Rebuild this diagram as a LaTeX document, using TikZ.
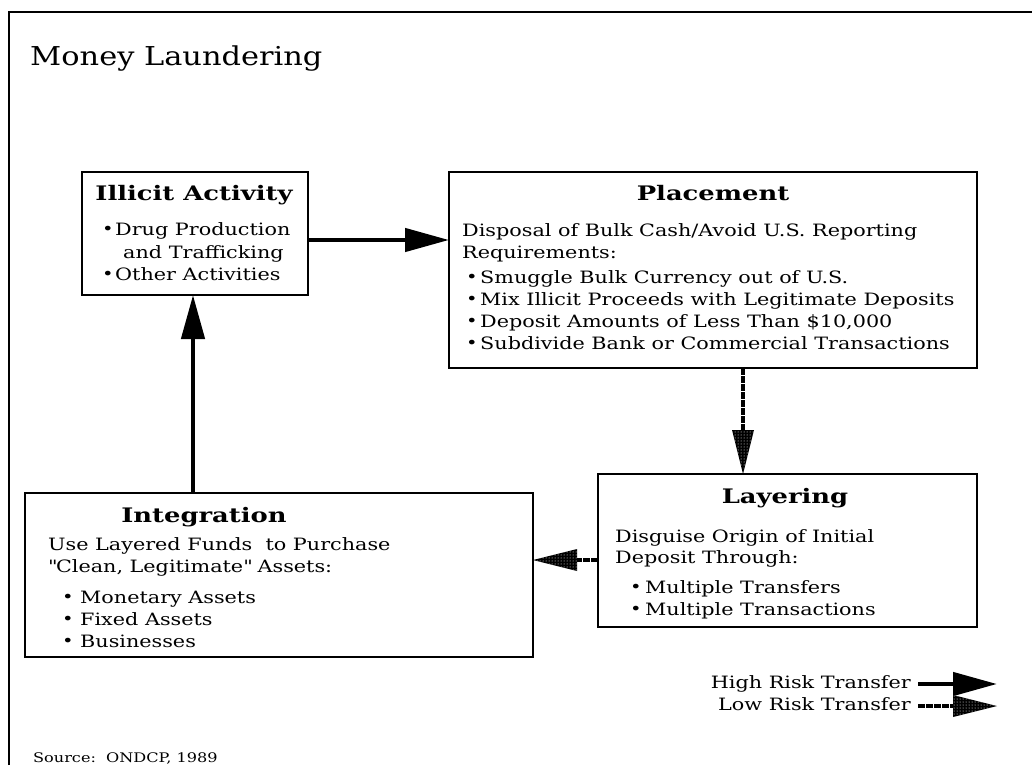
\documentclass[tikz,border=0pt]{standalone}
\usepackage{fontspec}
\setmainfont[FakeStretch=1.22]{DejaVu Serif}
\newfontfamily\ttlfont[FakeStretch=1.29]{DejaVu Serif}
\newfontfamily\bigfont[FakeStretch=1.17]{DejaVu Serif}
\usetikzlibrary{arrows.meta,patterns,calc}
\newcommand\mybul[1]{\makebox[#1][l]{\raisebox{0.3pt}{\fontsize{16}{16}\selectfont\textbullet}}}
\begin{document}
\begin{tikzpicture}[x=1pt,y=-1pt,
 box/.style={draw,line width=1.8pt,inner sep=0,outer sep=0},
 txt/.style={anchor=base west,inner sep=0,font=\fontsize{17}{20}\selectfont},
 ttl/.style={anchor=base,inner sep=0,font=\ttlfont\fontsize{20}{24}\selectfont\bfseries},
 hr/.style={line width=4.5pt,-{Triangle[length=44pt,width=23pt]}},
 lrshaft/.style={line width=3.5pt,dash pattern=on 7pt off 1pt},
 lrhead/.style={fill=black,postaction={pattern=dots,pattern color=white}},
]
\useasboundingbox (0,0) rectangle (1032,765);
\draw[line width=2.5pt] (9,765) -- (9,12) -- (1032,12);
\node[anchor=base west,inner sep=0,font=\bigfont\fontsize{26}{30}\selectfont] (title) at (30,66) {Money Laundering};

% boxes
\node[box,minimum width=226pt,minimum height=123pt] (illicit) at (195,233.5) {};
\node[box,minimum width=528pt,minimum height=196pt] (placement) at (713,270) {};
\node[box,minimum width=379pt,minimum height=153pt] (layering) at (787.5,550.5) {};
\node[box,minimum width=508pt,minimum height=164pt] (integration) at (279,575) {};

% illicit text
\node[ttl] (it) at (194,200) {Illicit Activity};
\node[txt] (i1) at (102,235) {\mybul{13pt}Drug Production};
\node[txt] (i2) at (123,258) {and Trafficking};
\node[txt] (i3) at (102,280) {\mybul{13pt}Other Activities};

% placement text
\node[ttl] (pt) at (713,200) {Placement};
\node[txt] (p1) at (462,236) {Disposal of Bulk Cash/Avoid U.S. Reporting};
\node[txt] (p2) at (462,258) {Requirements:};
\node[txt] (p3) at (466,283) {\mybul{14pt}Smuggle Bulk Currency out of U.S.};
\node[txt] (p4) at (466,305) {\mybul{14pt}Mix Illicit Proceeds with Legitimate Deposits};
\node[txt] (p5) at (466,327) {\mybul{14pt}Deposit Amounts of Less Than \$10,000};
\node[txt] (p6) at (466,349) {\mybul{14pt}Subdivide Bank or Commercial Transactions};

% layering text
\node[ttl] (lt) at (785,503) {Layering};
\node[txt] (l1) at (615,542) {Disguise Origin of Initial};
\node[txt] (l2) at (615,563) {Deposit Through:};
\node[txt] (l3) at (630,593) {\mybul{15pt}Multiple Transfers};
\node[txt] (l4) at (630,615) {\mybul{15pt}Multiple Transactions};

% integration text
\node[ttl] (gt) at (204,522) {Integration};
\node[txt] (g1) at (48,550) {Use Layered Funds\ \ to Purchase};
\node[txt] (g2) at (48,572) {\textquotedbl Clean, Legitimate\textquotedbl\ Assets:};
\node[txt] (g3) at (62,603) {\mybul{18pt}Monetary Assets};
\node[txt] (g4) at (62,625) {\mybul{18pt}Fixed Assets};
\node[txt] (g5) at (62,647) {\mybul{18pt}Businesses};

% high risk arrows
\draw[hr] (illicit.east |- 0,240) -- (placement.west |- 0,240);
\draw[hr] (integration.north -| 193,0) -- (illicit.south -| 193,0);

% low risk arrows
\coordinate (da1) at (placement.south -| 743,0);
\coordinate (da2) at (layering.north -| 743,0);
\draw[lrshaft] (da1) -- ($(da2)+(0,-40)$);
\path[lrhead] (da2) -- ($(da2)+(-11,-44)$) -- ($(da2)+(11,-44)$) -- cycle;

\coordinate (la1) at (layering.west |- 0,560);
\coordinate (la2) at (integration.east |- 0,560);
\draw[lrshaft] (la1) -- ($(la2)+(40,0)$);
\path[lrhead] (la2) -- ($(la2)+(44,-11)$) -- ($(la2)+(44,11)$) -- cycle;

% legend
\node[anchor=base east,inner sep=0,font=\fontsize{17}{20}\selectfont] (hrt) at (911,688) {High Risk Transfer};
\node[anchor=base east,inner sep=0,font=\fontsize{17}{20}\selectfont] (lrt) at (911,710) {Low Risk Transfer};
\coordinate (h1) at (918,684);
\coordinate (h2) at (997,684);
\draw[hr] (h1) -- (h2);
\coordinate (w1) at (918,706);
\coordinate (w2) at (997,706);
\draw[lrshaft] (w1) -- ($(w2)+(-40,0)$);
\path[lrhead] (w2) -- ($(w2)+(-44,-11)$) -- ($(w2)+(-44,11)$) -- cycle;

% source
\node[anchor=base west,inner sep=0,font=\fontsize{13.2}{16}\selectfont] (src) at (33,762) {Source:\ \ ONDCP, 1989};
\end{tikzpicture}
\end{document}
